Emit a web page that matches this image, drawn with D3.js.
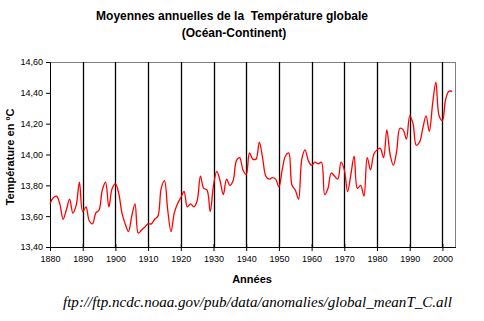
<!DOCTYPE html>
<html>
<head>
<meta charset="utf-8">
<script src="https://cdn.jsdelivr.net/npm/d3@7"></script>
<style>
  body { margin: 0; background: #fff; }
  text { font-family: Arial, "Liberation Sans", sans-serif; }
</style>
</head>
<body>
<div id="chart"></div>
<script>
// annual mean global temperature (ocean + land)
var years = d3.range(1880, 2004);
var temps = [
  13.68, 13.72, 13.73, 13.68, 13.58, 13.64, 13.71, 13.62, 13.67, 13.82,
  13.63, 13.66, 13.57, 13.55, 13.62, 13.64, 13.77, 13.82, 13.66, 13.78,
  13.81, 13.75, 13.62, 13.55, 13.50, 13.60, 13.68, 13.49, 13.51, 13.53,
  13.55, 13.55, 13.58, 13.60, 13.78, 13.83, 13.64, 13.50, 13.62, 13.68,
  13.72, 13.76, 13.66, 13.68, 13.66, 13.70, 13.86, 13.78, 13.77, 13.63,
  13.80, 13.89, 13.83, 13.74, 13.84, 13.80, 13.83, 13.96, 13.98, 13.90,
  13.87, 14.01, 13.97, 13.97, 14.08, 13.98, 13.86, 13.84, 13.85, 13.84,
  13.79, 13.90, 13.99, 14.01, 13.80, 13.77, 13.71, 13.97, 14.03, 13.96,
  13.93, 13.95, 13.94, 13.95, 13.74, 13.78, 13.88, 13.86, 13.84, 13.95,
  13.90, 13.76, 13.87, 13.99, 13.78, 13.80, 13.73, 13.98, 13.90, 14.00,
  14.03, 14.04, 13.98, 14.16, 14.00, 13.93, 14.02, 14.17, 14.16, 14.10,
  14.25, 14.20, 14.06, 14.08, 14.17, 14.25, 14.15, 14.33, 14.47, 14.25,
  14.22, 14.36, 14.41, 14.41
];
var yTicks = [13.4, 13.6, 13.8, 14.0, 14.2, 14.4, 14.6];
var xTicks = d3.range(1880, 2001, 10);

var width = 484, height = 321;
var plot = {left: 50, right: 455.5, top: 62, bottom: 247};

var svg = d3.select("#chart").append("svg")
    .attr("width", width)
    .attr("height", height);

var x = d3.scaleLinear().domain([1880, 2004]).range([plot.left, plot.right]);
var y = d3.scaleLinear().domain([13.4, 14.6]).range([plot.bottom, plot.top]);

var fmt = function(d){ return d3.format(".2f")(d).replace(".", ","); };

// frame (top and right in grey)
svg.append("path")
    .attr("d", "M" + plot.left + "," + plot.top + "H" + plot.right + "V" + plot.bottom)
    .attr("fill", "none")
    .attr("stroke", "#808080")
    .attr("stroke-width", 1)
    .attr("shape-rendering", "crispEdges");

// decade gridlines
svg.append("g").selectAll("line")
    .data(xTicks.slice(1))
    .enter().append("line")
    .attr("x1", function(d){ return Math.round(x(d)) + 0.5; })
    .attr("x2", function(d){ return Math.round(x(d)) + 0.5; })
    .attr("y1", plot.top)
    .attr("y2", plot.bottom)
    .attr("stroke", "#000")
    .attr("stroke-width", 1.3);

// y axis
var yAxis = d3.axisLeft(y).tickValues(yTicks).tickFormat(fmt).tickSize(4).tickPadding(3);
var gy = svg.append("g")
    .attr("transform", "translate(" + plot.left + ",0)")
    .call(yAxis);
gy.select(".domain").attr("stroke", "#000");
gy.selectAll("text").style("font-size", "9px").attr("fill", "#000");

// x axis
var xAxis = d3.axisBottom(x).tickValues(xTicks).tickFormat(d3.format("d")).tickSizeInner(4).tickSizeOuter(0).tickPadding(5);
var gx = svg.append("g")
    .attr("transform", "translate(0," + plot.bottom + ")")
    .call(xAxis);
gx.select(".domain").attr("stroke", "#000");
gx.selectAll(".tick line").attr("y1", -3);
gx.selectAll("text").style("font-size", "9px").attr("fill", "#000");

// temperature line
var line = d3.line()
    .x(function(d, i){ return x(years[i]); })
    .y(function(d){ return y(d); })
    .curve(d3.curveCatmullRom.alpha(0.5));

svg.append("path")
    .datum(temps)
    .attr("d", line)
    .attr("fill", "none")
    .attr("stroke", "#ff0000")
    .attr("stroke-width", 1.3);

// titles
svg.append("text")
    .attr("x", 232).attr("y", 20)
    .attr("text-anchor", "middle")
    .style("font-size", "12px").style("font-weight", "bold")
    .style("white-space", "pre")
    .text("Moyennes annuelles de la  Température globale");
svg.append("text")
    .attr("x", 234).attr("y", 37)
    .attr("text-anchor", "middle")
    .style("font-size", "12px").style("font-weight", "bold")
    .text("(Océan-Continent)");

svg.append("text")
    .attr("transform", "translate(14,157) rotate(-90)")
    .attr("text-anchor", "middle")
    .style("font-size", "11px").style("font-weight", "bold")
    .text("Température en ºC");

svg.append("text")
    .attr("x", 252).attr("y", 283)
    .attr("text-anchor", "middle")
    .style("font-size", "11px").style("font-weight", "bold")
    .text("Années");

svg.append("text")
    .attr("x", 63).attr("y", 307)
    .attr("textLength", 389)
    .attr("lengthAdjust", "spacingAndGlyphs")
    .style("font-family", "'Liberation Serif', 'Times New Roman', serif")
    .style("font-style", "italic")
    .style("font-size", "15.5px")
    .text("ftp://ftp.ncdc.noaa.gov/pub/data/anomalies/global_meanT_C.all");
</script>
</body>
</html>
